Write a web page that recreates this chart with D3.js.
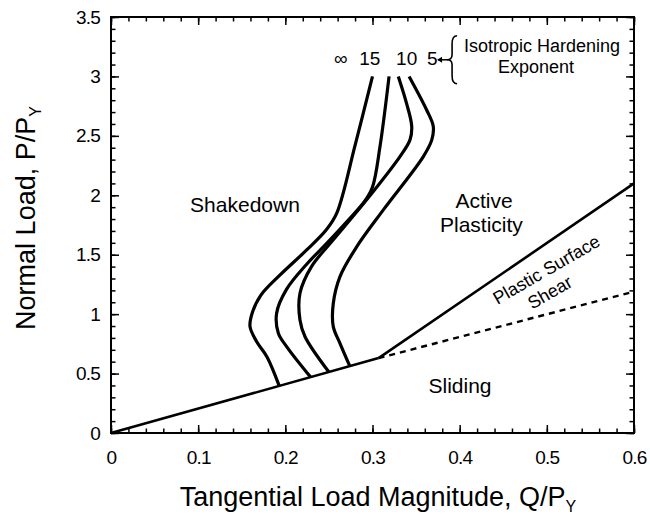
<!DOCTYPE html>
<html>
<head>
<meta charset="utf-8">
<script src="https://cdn.jsdelivr.net/npm/d3@7"></script>
<style>
  body { margin: 0; background: #fff; }
  svg text { font-family: "Liberation Sans", Arial, sans-serif; fill: #000; }
</style>
</head>
<body>
<svg id="chart"></svg>
<script>
// tick values / labels
const xTicks = [0, 0.1, 0.2, 0.3, 0.4, 0.5, 0.6];
const xTickLabels = ["0", "0.1", "0.2", "0.3", "0.4", "0.5", "0.6"];
const yTicks = [0, 0.5, 1, 1.5, 2, 2.5, 3, 3.5];
const yTickLabels = ["0", "0.5", "1", "1.5", "2", "2.5", "3", "3.5"];

// shakedown limits for each isotropic hardening exponent (Q/PY, P/PY)
const exponents = ["\u221E", "15", "10", "5"];
const qInf = [0.300, 0.280, 0.259, 0.247, 0.2245, 0.194, 0.172, 0.162, 0.1595, 0.167, 0.179, 0.193];
const pInf = [3.00, 2.42, 1.85, 1.71, 1.54, 1.33, 1.16, 1.01, 0.895, 0.77, 0.64, 0.396];
const q15 = [0.319, 0.3086, 0.300, 0.291, 0.272, 0.248, 0.2245, 0.2015, 0.190, 0.192, 0.2015, 0.229];
const p15 = [3.00, 2.41, 2.07, 1.95, 1.79, 1.60, 1.42, 1.21, 1.008, 0.84, 0.727, 0.47];
const q10 = [0.3296, 0.339, 0.345, 0.343, 0.3315, 0.293, 0.255, 0.230, 0.2168, 0.2168, 0.2226, 0.250];
const p10 = [3.00, 2.775, 2.58, 2.466, 2.326, 1.96, 1.625, 1.40, 1.176, 0.951, 0.81, 0.513];
const q5 = [0.342, 0.362, 0.3697, 0.368, 0.3583, 0.3124, 0.282, 0.2627, 0.255, 0.255, 0.2627, 0.274];
const p5 = [3.00, 2.72, 2.58, 2.466, 2.326, 1.877, 1.568, 1.316, 1.09, 0.895, 0.755, 0.562];

// regime boundaries
const slidingQ = [0, 0.307];
const slidingP = [0, 0.63];
const shearQ = [0.307, 0.6];
const shearP = [0.63, 2.1];
const dashQ = [0.307, 0.6];
const dashP = [0.63, 1.19];

const width = 650, height = 515;
const margin = { top: 17, right: 16, bottom: 82, left: 111 };

const svg = d3.select("#chart")
  .attr("width", width)
  .attr("height", height);

const x = d3.scaleLinear().domain([0, 0.6]).range([margin.left, width - margin.right]);
const y = d3.scaleLinear().domain([0, 3.5]).range([height - margin.bottom, margin.top]);

const xMinor = d3.range(0, 0.6001, 0.02);
const yMinor = d3.range(0, 3.5001, 0.1);

function styleAxis(g) {
  g.select(".domain").remove();
  g.selectAll(".tick line").attr("stroke", "#000").attr("stroke-width", 1.5);
}

// minor ticks on all sides
svg.append("g").attr("transform", `translate(0,${y(0)})`)
  .call(d3.axisBottom(x).tickValues(xMinor).tickSize(-4.5).tickFormat(""))
  .call(styleAxis);
svg.append("g").attr("transform", `translate(0,${y(3.5)})`)
  .call(d3.axisTop(x).tickValues(xMinor).tickSize(-4.5).tickFormat(""))
  .call(styleAxis);
svg.append("g").attr("transform", `translate(${x(0)},0)`)
  .call(d3.axisLeft(y).tickValues(yMinor).tickSize(-4.5).tickFormat(""))
  .call(styleAxis);
svg.append("g").attr("transform", `translate(${x(0.6)},0)`)
  .call(d3.axisRight(y).tickValues(yMinor).tickSize(-4.5).tickFormat(""))
  .call(styleAxis);

// major ticks
svg.append("g").attr("transform", `translate(0,${y(0)})`)
  .call(d3.axisBottom(x).tickValues(xTicks).tickSize(-8).tickPadding(18)
    .tickFormat((d, i) => xTickLabels[i]))
  .call(styleAxis)
  .attr("font-size", 19);
svg.append("g").attr("transform", `translate(0,${y(3.5)})`)
  .call(d3.axisTop(x).tickValues(xTicks).tickSize(-8).tickFormat(""))
  .call(styleAxis);
svg.append("g").attr("transform", `translate(${x(0)},0)`)
  .call(d3.axisLeft(y).tickValues(yTicks).tickSize(-8).tickPadding(11)
    .tickFormat((d, i) => yTickLabels[i]))
  .call(styleAxis)
  .attr("font-size", 19);
svg.append("g").attr("transform", `translate(${x(0.6)},0)`)
  .call(d3.axisRight(y).tickValues(yTicks).tickSize(-8).tickFormat(""))
  .call(styleAxis);

svg.selectAll(".tick text").attr("letter-spacing", -0.8);

// frame
svg.append("rect")
  .attr("x", x(0)).attr("y", y(3.5))
  .attr("width", x(0.6) - x(0)).attr("height", y(0) - y(3.5))
  .attr("fill", "none").attr("stroke", "#000").attr("stroke-width", 2);

const smooth = d3.line().x(d => x(d[0])).y(d => y(d[1])).curve(d3.curveCatmullRom.alpha(0.5));
const straight = d3.line().x(d => x(d[0])).y(d => y(d[1]));

// boundaries
svg.append("path").attr("d", straight(d3.zip(slidingQ, slidingP)))
  .attr("fill", "none").attr("stroke", "#000").attr("stroke-width", 2.6);
svg.append("path").attr("d", straight(d3.zip(shearQ, shearP)))
  .attr("fill", "none").attr("stroke", "#000").attr("stroke-width", 2.6);
svg.append("path").attr("d", straight(d3.zip(dashQ, dashP)))
  .attr("fill", "none").attr("stroke", "#000").attr("stroke-width", 2.4)
  .attr("stroke-dasharray", "6,5");

// shakedown curves
const curves = [[qInf, pInf], [q15, p15], [q10, p10], [q5, p5]];
svg.selectAll("path.curve")
  .data(curves)
  .enter()
  .append("path")
    .attr("class", "curve")
    .attr("d", c => smooth(d3.zip(c[0], c[1])))
    .attr("fill", "none")
    .attr("stroke", "#000")
    .attr("stroke-width", 3.2)
    .attr("stroke-linejoin", "round");

// exponent labels
const labelQ = [0.2635, 0.2968, 0.3392, 0.3686];
svg.selectAll("text.expo")
  .data(exponents)
  .enter()
  .append("text")
    .attr("class", "expo")
    .attr("x", (d, i) => x(labelQ[i]))
    .attr("y", y(3.098))
    .attr("text-anchor", "middle")
    .attr("font-size", 19)
    .text(d => d);

// arrow + brace
const bx = x(0.389), by = y(3.14);
svg.append("path")
  .attr("d", `M${bx - 12},${by} L${bx - 2},${by}`)
  .attr("stroke", "#000").attr("stroke-width", 1.5);
svg.append("path")
  .attr("d", `M${bx - 13},${by} L${bx - 8},${by - 3} L${bx - 8},${by + 3} Z`)
  .attr("fill", "#000");
svg.append("path")
  .attr("d", `M${bx + 7},${by - 24} Q${bx + 2},${by - 24} ${bx + 2},${by - 16} L${bx + 2},${by - 5} Q${bx + 2},${by} ${bx - 3},${by} Q${bx + 2},${by} ${bx + 2},${by + 5} L${bx + 2},${by + 16} Q${bx + 2},${by + 24} ${bx + 7},${by + 24}`)
  .attr("fill", "none").attr("stroke", "#000").attr("stroke-width", 1.6);

svg.append("text").attr("x", x(0.4944)).attr("y", y(3.207))
  .attr("text-anchor", "middle").attr("font-size", 18).text("Isotropic Hardening");
svg.append("text").attr("x", x(0.4876)).attr("y", y(3.03))
  .attr("text-anchor", "middle").attr("font-size", 18).text("Exponent");

// region labels
svg.append("text").attr("x", x(0.1537)).attr("y", y(1.86))
  .attr("text-anchor", "middle").attr("font-size", 21).text("Shakedown");
svg.append("text").attr("x", x(0.4279)).attr("y", y(1.894))
  .attr("text-anchor", "middle").attr("font-size", 21).text("Active");
svg.append("text").attr("x", x(0.425)).attr("y", y(1.692))
  .attr("text-anchor", "middle").attr("font-size", 21).text("Plasticity");
svg.append("text").attr("x", x(0.4004)).attr("y", y(0.337))
  .attr("text-anchor", "middle").attr("font-size", 21).text("Sliding");
svg.append("text")
  .attr("transform", `translate(${x(0.503)},${y(1.33)}) rotate(-30)`)
  .attr("text-anchor", "middle").attr("font-size", 18).text("Plastic Surface");
svg.append("text")
  .attr("transform", `translate(${x(0.507)},${y(1.138)}) rotate(-30)`)
  .attr("text-anchor", "middle").attr("font-size", 18).text("Shear");

// axis titles
const xt = svg.append("text")
  .attr("x", 378).attr("y", 506)
  .attr("text-anchor", "middle").attr("font-size", 27);
xt.append("tspan").text("Tangential Load Magnitude, Q/P");
xt.append("tspan").attr("font-size", 16).attr("dy", 6).text("Y");

const yt = svg.append("text")
  .attr("transform", "translate(35,218) rotate(-90)")
  .attr("text-anchor", "middle").attr("font-size", 27);
yt.append("tspan").text("Normal Load, P/P");
yt.append("tspan").attr("font-size", 16).attr("dy", 6).text("Y");
</script>
</body>
</html>
